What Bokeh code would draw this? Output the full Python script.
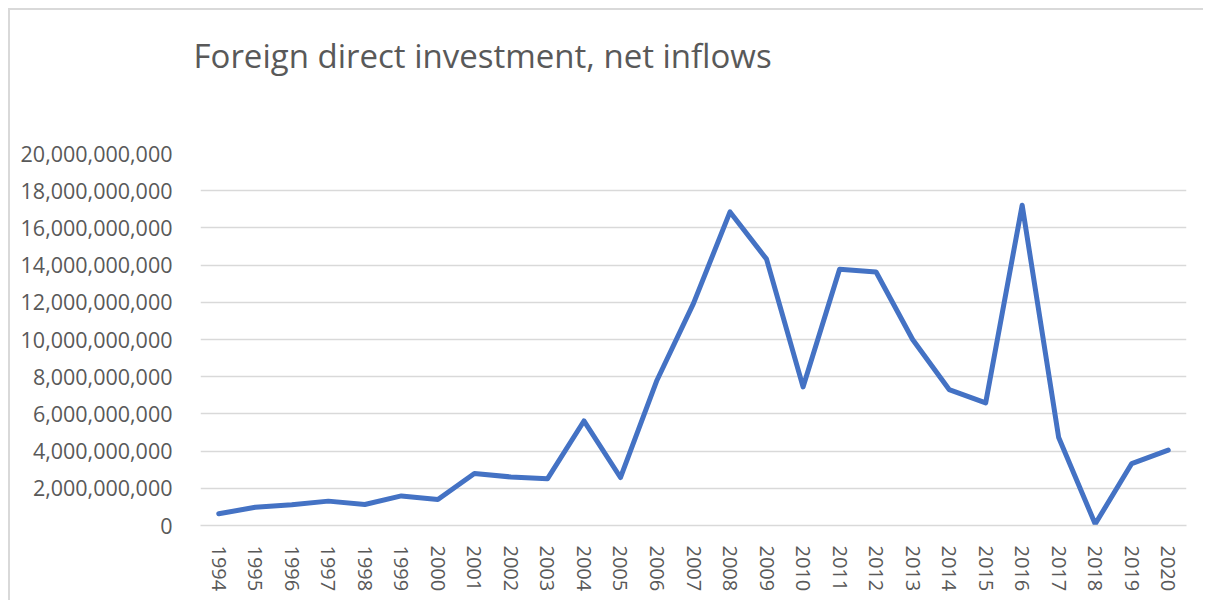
from bokeh.plotting import figure
from bokeh.models import FactorRange, Range1d, FixedTicker, NumeralTickFormatter, Title
from bokeh.embed import file_html
from bokeh.resources import INLINE

years = [str(y) for y in range(1994, 2021)]
fdi_inflows = [
    0.63e9, 0.98e9, 1.12e9, 1.31e9, 1.13e9, 1.59e9, 1.40e9, 2.80e9, 2.61e9, 2.51e9,
    5.62e9, 2.58e9, 7.81e9, 11.94e9, 16.86e9, 14.32e9, 7.45e9, 13.78e9, 13.63e9,
    10.0e9, 7.31e9, 6.59e9, 17.22e9, 4.73e9, 0.08e9, 3.33e9, 4.05e9,
]
y_ticks = [i * 2e9 for i in range(11)]
title_text = "Foreign direct investment, net inflows"

GRAY_TEXT = "#595959"
GRID = "#d9d9d9"
FONT = "Open Sans"

p = figure(
    x_range=FactorRange(*years, range_padding=0),
    y_range=Range1d(0, 20e9),
    width=1195, height=592,
    output_backend="svg", toolbar_location=None,
    min_border_left=190, min_border_right=19, min_border_top=143, min_border_bottom=77,
    title=title_text,
)
p.styles = {
    "margin-left": "10px", "margin-top": "10px",
    "box-shadow": "-2px -2px 0 0 #d9d9d9",
}
p.outline_line_color = None
p.background_fill_color = "white"
p.border_fill_color = "white"

p.title.text_font = FONT
p.title.text_font_size = "33px"
p.title.text_font_style = "normal"
p.title.text_color = GRAY_TEXT
p.title.align = "left"
p.title.offset = -7
p.title.standoff = 0

spacer = Title(text=" ", text_font_size="1px", standoff=73)
p.add_layout(spacer, "above")

p.line(x=years, y=fdi_inflows, line_color="#4472C4", line_width=5,
       line_join="round", line_cap="round")

p.xgrid.grid_line_color = None
p.ygrid.grid_line_color = GRID
p.ygrid.grid_line_width = 1.5
p.yaxis.ticker = FixedTicker(ticks=y_ticks)
p.yaxis.formatter = NumeralTickFormatter(format="0,0")
p.yaxis.axis_line_color = None
p.yaxis.major_tick_line_color = None
p.yaxis.minor_tick_line_color = None
p.yaxis.major_label_standoff = 22
p.yaxis.major_label_text_font = FONT
p.yaxis.major_label_text_font_size = "21.5px"
p.yaxis.major_label_text_color = GRAY_TEXT

p.xaxis.axis_line_color = GRID
p.xaxis.axis_line_width = 1.5
p.xaxis.major_tick_line_color = None
p.xaxis.minor_tick_line_color = None
p.xaxis.major_label_orientation = "vertical"
p.xaxis.major_label_standoff = 14
p.xaxis.major_label_text_font = FONT
p.xaxis.major_label_text_font_size = "20px"
p.xaxis.major_label_text_color = GRAY_TEXT

open("out.html", "w").write(file_html(p, INLINE))
